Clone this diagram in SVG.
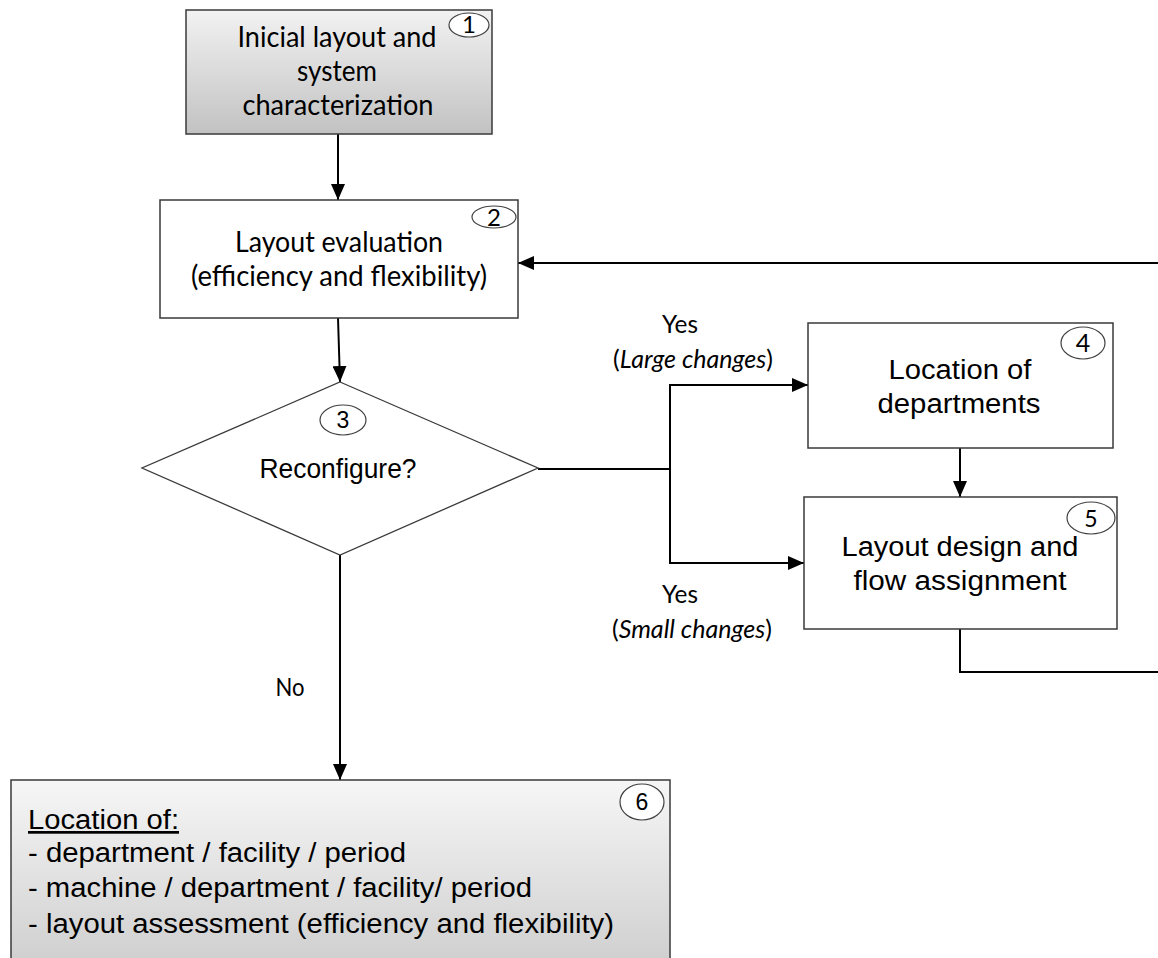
<svg xmlns="http://www.w3.org/2000/svg" width="1158" height="958" viewBox="0 0 1158 958">
  <defs>
    <linearGradient id="gradStart" x1="0" y1="0" x2="0" y2="1">
      <stop offset="0" stop-color="#f2f2f2"/>
      <stop offset="1" stop-color="#c2c2c2"/>
    </linearGradient>
    <linearGradient id="gradResult" x1="0" y1="780" x2="0" y2="960" gradientUnits="userSpaceOnUse">
      <stop offset="0" stop-color="#f6f6f6"/>
      <stop offset="1" stop-color="#d0d0d0"/>
    </linearGradient>
    <marker id="arrow" markerUnits="userSpaceOnUse" markerWidth="16" markerHeight="14" refX="16" refY="7" orient="auto">
      <path d="M0,0 L16,7 L0,14 z" fill="#000"/>
    </marker>
    <style>
      .box { stroke: #3a3a3a; stroke-width: 1.5; }
      .badge { fill: #fff; stroke: #404040; stroke-width: 1.2; }
      .conn { fill: none; stroke: #000; stroke-width: 2; }
      .cal { font-family: Lato, "Open Sans", sans-serif; fill: #000; text-anchor: middle; }
      .ari { font-family: "Liberation Sans", Arial, sans-serif; fill: #000; text-anchor: middle; }
      .ari-l { font-family: "Liberation Sans", Arial, sans-serif; fill: #000; }
    </style>
  </defs>

  <!-- connectors -->
  <g id="connectors">
    <line class="conn" x1="338" y1="134" x2="338" y2="200" marker-end="url(#arrow)"/>
    <line class="conn" x1="338" y1="318" x2="340" y2="382" marker-end="url(#arrow)"/>
    <path class="conn" d="M538,469 H670 V385 H808" marker-end="url(#arrow)"/>
    <path class="conn" d="M670,469 V563 H804" marker-end="url(#arrow)"/>
    <line class="conn" x1="960" y1="448" x2="960" y2="497" marker-end="url(#arrow)"/>
    <path class="conn" d="M960,629 V672 H1172 V263 H518" marker-end="url(#arrow)"/>
    <line class="conn" x1="340" y1="555" x2="340" y2="780" marker-end="url(#arrow)"/>
  </g>

  <!-- branch labels -->
  <g id="labels">
    <text class="cal" x="680" y="333" font-size="25" textLength="36" lengthAdjust="spacingAndGlyphs">Yes</text>
    <text class="cal" x="693" y="368" font-size="25" textLength="160" lengthAdjust="spacingAndGlyphs">(<tspan font-style="italic">Large changes</tspan>)</text>
    <text class="cal" x="680" y="603" font-size="25" textLength="36" lengthAdjust="spacingAndGlyphs">Yes</text>
    <text class="cal" x="692" y="638" font-size="25" textLength="160" lengthAdjust="spacingAndGlyphs">(<tspan font-style="italic">Small changes</tspan>)</text>
    <text class="cal" x="290" y="696" font-size="25" textLength="29" lengthAdjust="spacingAndGlyphs">No</text>
  </g>

  <!-- 1: initial layout -->
  <g id="node1">
    <rect class="box" x="186" y="10" width="306" height="124" fill="url(#gradStart)"/>
    <ellipse class="badge" cx="469" cy="25" rx="20" ry="12"/>
    <text class="cal" x="469" y="33" font-size="24">1</text>
    <text class="cal" x="337" y="47" font-size="29" textLength="199" lengthAdjust="spacingAndGlyphs">Inicial layout and</text>
    <text class="cal" x="337" y="81" font-size="29" textLength="80" lengthAdjust="spacingAndGlyphs">system</text>
    <text class="cal" x="338" y="115" font-size="29" textLength="191" lengthAdjust="spacingAndGlyphs">characterization</text>
  </g>

  <!-- 2: layout evaluation -->
  <g id="node2">
    <rect class="box" x="160" y="200" width="358" height="118" fill="#fff"/>
    <ellipse class="badge" cx="494" cy="217" rx="22" ry="11"/>
    <text class="cal" x="494" y="226" font-size="24">2</text>
    <text class="cal" x="339" y="252" font-size="29" textLength="208" lengthAdjust="spacingAndGlyphs">Layout evaluation</text>
    <text class="cal" x="339" y="286" font-size="29" textLength="296" lengthAdjust="spacingAndGlyphs">(efficiency and flexibility)</text>
  </g>

  <!-- 3: decision -->
  <g id="node3">
    <polygon points="340,382 538,468 340,555 142,468" fill="#fff" stroke="#3a3a3a" stroke-width="1.3"/>
    <ellipse class="badge" cx="343" cy="420" rx="23" ry="15"/>
    <text class="ari" x="343" y="428" font-size="23">3</text>
    <text class="ari" x="338" y="478" font-size="27" textLength="157" lengthAdjust="spacingAndGlyphs">Reconfigure?</text>
  </g>

  <!-- 4: location of departments -->
  <g id="node4">
    <rect class="box" x="808" y="323" width="305" height="125" fill="#fff"/>
    <ellipse class="badge" cx="1083" cy="343" rx="22" ry="16"/>
    <text class="cal" x="1083" y="352" font-size="25">4</text>
    <text class="ari" x="960" y="379" font-size="27" textLength="143" lengthAdjust="spacingAndGlyphs">Location of</text>
    <text class="ari" x="959" y="413" font-size="27" textLength="163" lengthAdjust="spacingAndGlyphs">departments</text>
  </g>

  <!-- 5: layout design and flow assignment -->
  <g id="node5">
    <rect class="box" x="804" y="497" width="313" height="132" fill="#fff"/>
    <ellipse class="badge" cx="1091" cy="518" rx="24" ry="16"/>
    <text class="cal" x="1091" y="527" font-size="23">5</text>
    <text class="ari" x="960" y="556" font-size="27" textLength="237" lengthAdjust="spacingAndGlyphs">Layout design and</text>
    <text class="ari" x="960" y="590" font-size="27" textLength="213" lengthAdjust="spacingAndGlyphs">flow assignment</text>
  </g>

  <!-- 6: resulting locations -->
  <g id="node6">
    <rect class="box" x="11" y="780" width="659" height="200" fill="url(#gradResult)"/>
    <ellipse class="badge" cx="642" cy="802" rx="22" ry="18"/>
    <text class="ari" x="642" y="810" font-size="23">6</text>
    <text class="ari-l" x="28" y="829" font-size="27" textLength="151" lengthAdjust="spacingAndGlyphs" text-decoration="underline">Location of:</text>
    <text class="ari-l" x="28" y="862" font-size="27" textLength="378" lengthAdjust="spacingAndGlyphs">- department / facility / period</text>
    <text class="ari-l" x="28" y="897" font-size="27" textLength="504" lengthAdjust="spacingAndGlyphs">- machine / department / facility/ period</text>
    <text class="ari-l" x="28" y="933" font-size="27" textLength="586" lengthAdjust="spacingAndGlyphs">- layout assessment (efficiency and flexibility)</text>
  </g>
</svg>
